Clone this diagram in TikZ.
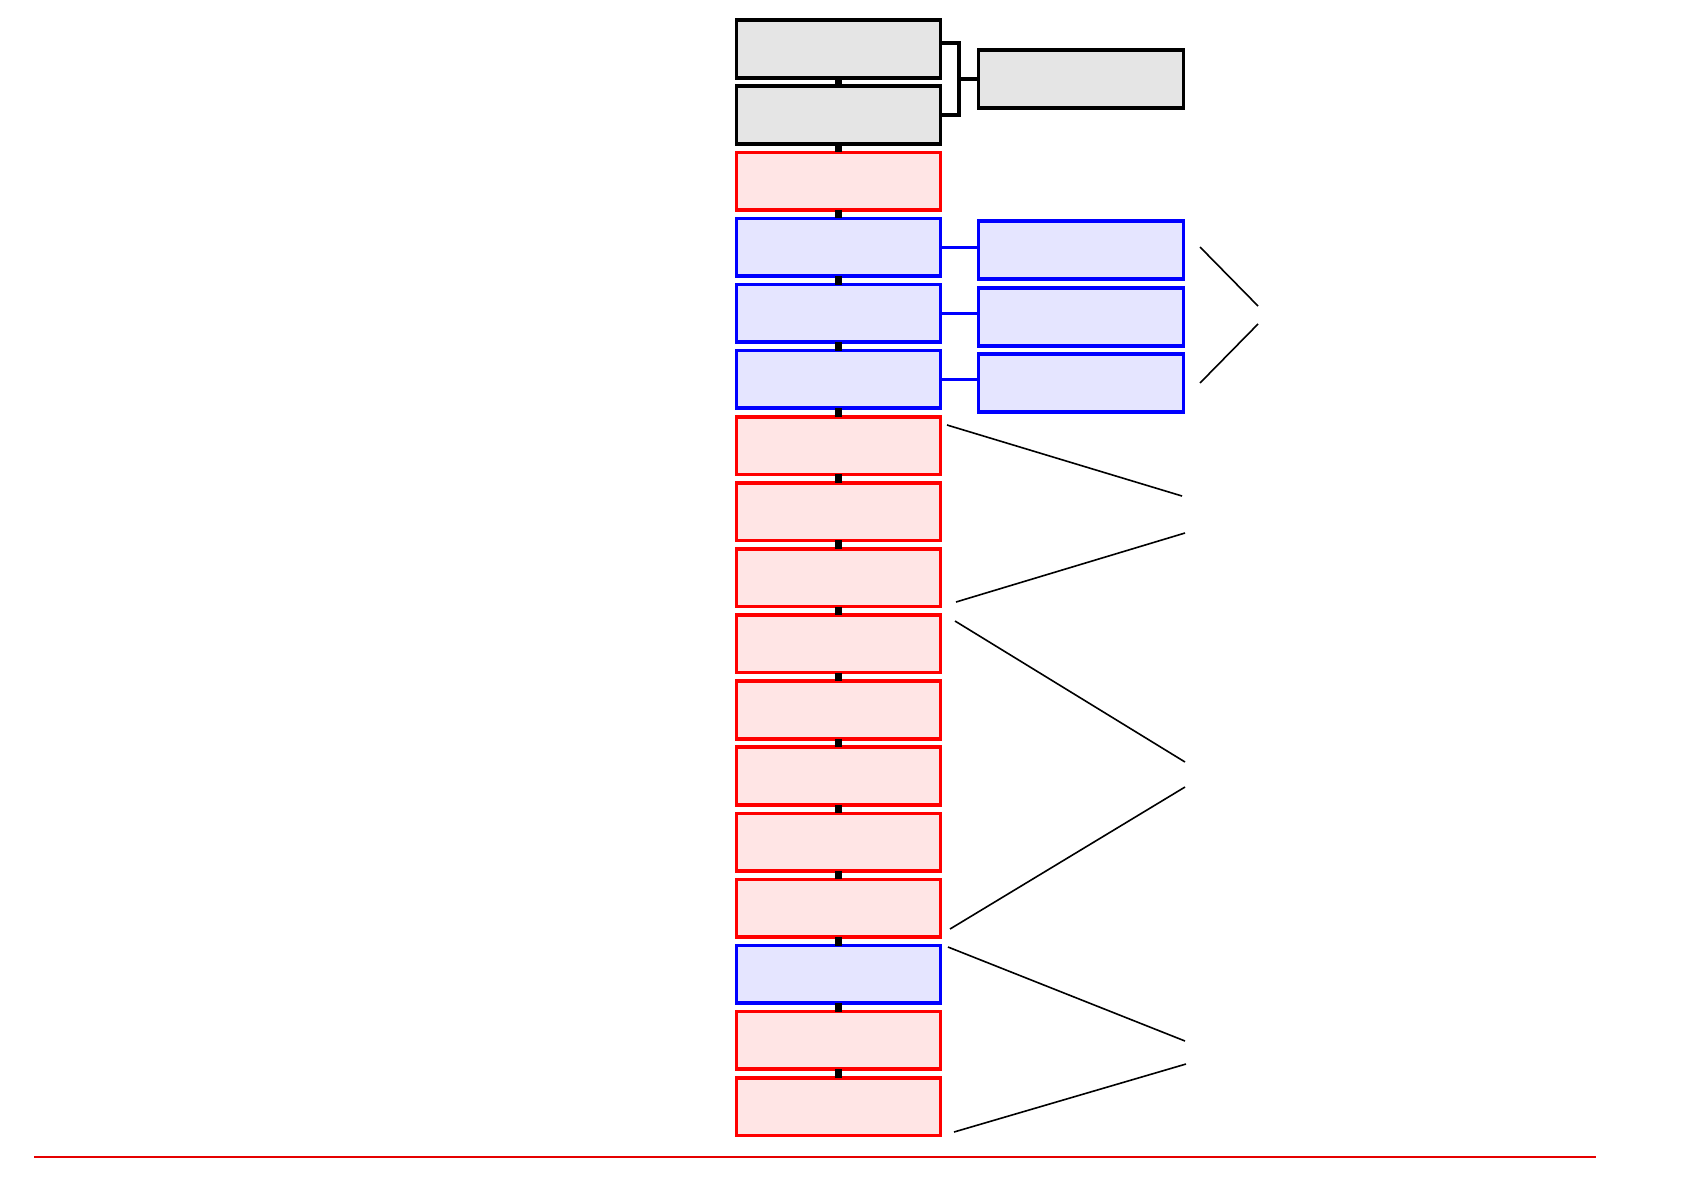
\documentclass[tikz,border=0pt]{standalone}
\begin{document}
\begin{tikzpicture}[x=0.5pt,y=-0.5pt,
  box/.style={rectangle,inner sep=0pt,outer sep=0pt,minimum width=102pt,minimum height=28.8pt,line width=1.8pt},
  rbox/.style={box,minimum width=102.5pt},
  graybox/.style={box,draw=black,fill=black!10},
  redbox/.style={box,draw=red,fill=red!10},
  bluebox/.style={box,draw=blue,fill=blue!10},
  rgraybox/.style={rbox,draw=black,fill=black!10},
  rbluebox/.style={rbox,draw=blue,fill=blue!10},
  vlink/.style={line width=3.2pt,black},
  hlink/.style={line width=1.6pt,blue},
  bracket/.style={line width=1.6pt,black},
  diag/.style={line width=0.8pt,black},
  base/.style={line width=1.1pt,red!90!black}]
\useasboundingbox (0,0) rectangle (1684,1190);
% left column
\foreach \s [count=\i from 0] in {graybox,graybox,redbox,bluebox,bluebox,bluebox,redbox,redbox,redbox,redbox,redbox,redbox,redbox,redbox,bluebox,redbox,redbox}
  \node[\s] (L\i) at (838.5,{48.9+66.1*\i}) {};
% vertical links
\foreach \i [evaluate=\i as \j using int(\i+1)] in {0,...,15}
  \draw[vlink] (L\i.south) -- (L\j.north);
% right column
\node[rgraybox] (R0) at (1081,79) {};
\node[rbluebox] (R3) at (1081,250) {};
\node[rbluebox] (R4) at (1081,317) {};
\node[rbluebox] (R5) at (1081,383) {};
% bracket
\coordinate (b1) at (959,43);
\coordinate (b2) at (959,115);
\draw[bracket] (L0.east |- b1) -- (b1) -- (b2) -- (L1.east |- b2);
\draw[bracket] (b1 |- R0.west) -- (R0.west);
% blue links
\foreach \i in {3,4,5}
  \draw[hlink] (L\i.east) -- (R\i.west |- L\i.east);
% diagonal lines
\coordinate (d1a) at (1200,247); \coordinate (d1b) at (1258,306);
\coordinate (d2a) at (1200,383); \coordinate (d2b) at (1258,324);
\coordinate (d3a) at (947,425);  \coordinate (d3b) at (1182,496);
\coordinate (d4a) at (956,602);  \coordinate (d4b) at (1185,533);
\coordinate (d5a) at (955,621);  \coordinate (d5b) at (1185,762);
\coordinate (d6a) at (950,929);  \coordinate (d6b) at (1185,787);
\coordinate (d7a) at (948,947);  \coordinate (d7b) at (1185,1041);
\coordinate (d8a) at (954,1132); \coordinate (d8b) at (1186,1064);
\foreach \k in {1,...,8}
  \draw[diag] (d\k a) -- (d\k b);
% baseline
\coordinate (baseL) at (34,1157);
\coordinate (baseR) at (1596,1157);
\draw[base] (baseL) -- (baseR);
\end{tikzpicture}
\end{document}
